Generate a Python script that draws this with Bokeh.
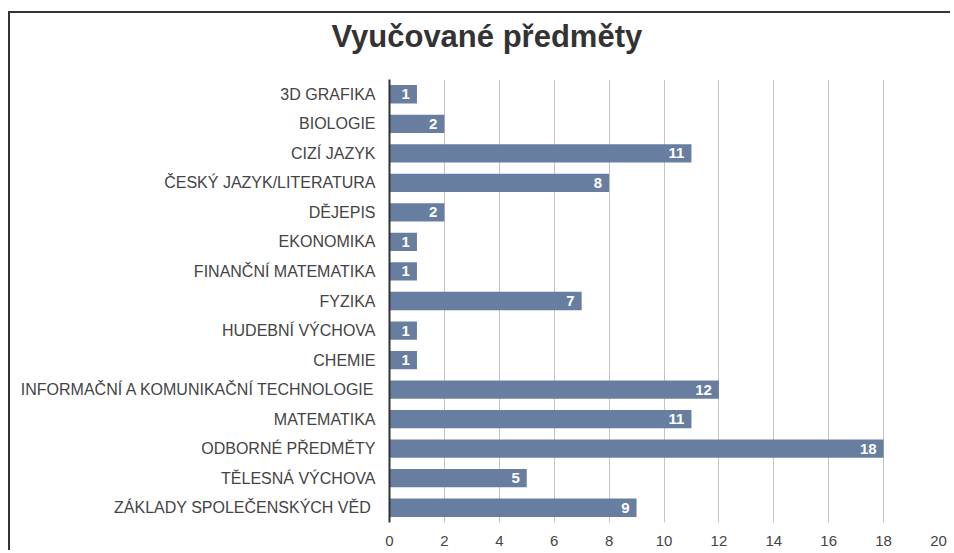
from bokeh.plotting import figure
from bokeh.models import ColumnDataSource, FixedTicker, FactorRange, Range1d
from bokeh.core.properties import value
from bokeh.embed import file_html
from bokeh.resources import INLINE

categories = ["3D GRAFIKA", "BIOLOGIE", "CIZÍ JAZYK", "ČESKÝ JAZYK/LITERATURA", "DĚJEPIS",
              "EKONOMIKA", "FINANČNÍ MATEMATIKA", "FYZIKA", "HUDEBNÍ VÝCHOVA", "CHEMIE",
              "INFORMAČNÍ A KOMUNIKAČNÍ TECHNOLOGIE", "MATEMATIKA", "ODBORNÉ PŘEDMĚTY",
              "TĚLESNÁ VÝCHOVA", "ZÁKLADY  SPOLEČENSKÝCH VĚD"]
counts = [1, 2, 11, 8, 2, 1, 1, 7, 1, 1, 12, 11, 18, 5, 9]
x_ticks = [0, 2, 4, 6, 8, 10, 12, 14, 16, 18, 20]
title_text = "Vyučované předměty"

src = ColumnDataSource(dict(cat=categories, val=counts, lab=[str(v) for v in counts]))

# chart box (left and top edge) drawn with CSS background lines
frame_css = {
    "margin-top": "-10px",
    "background-image": "linear-gradient(#333333, #333333), linear-gradient(#333333, #333333)",
    "background-size": "100% 2px, 2px 100%",
    "background-position": "8px 21px, 8px 21px",
    "background-repeat": "no-repeat",
}

p = figure(width=950, height=560, output_backend="svg", toolbar_location=None,
           y_range=FactorRange(factors=list(reversed(categories))),
           x_range=Range1d(0, 20),
           min_border_left=389, min_border_right=12, min_border_top=87, min_border_bottom=28,
           styles=frame_css)
p.border_fill_color = None
p.background_fill_color = None

p.title.text = title_text
p.title.align = "left"
p.title.offset = -58
p.title.standoff = 52
p.title.text_font = "Liberation Sans"
p.title.text_font_size = "31px"
p.title.text_font_style = "bold"
p.title.text_color = "#333333"

p.hbar(y="cat", right="val", left=0, height=0.62, source=src,
       fill_color="#687ea1", line_color=None)
p.text(x="val", y="cat", text="lab", source=src, x_offset=-7, text_align="right",
       text_baseline="middle", text_color="white", text_font=value("Liberation Sans"),
       text_font_size="15px", text_font_style="bold")

p.xaxis.ticker = FixedTicker(ticks=x_ticks)
p.xaxis.axis_line_color = None
p.xaxis.major_tick_line_color = None
p.xaxis.major_tick_out = 0
p.xaxis.minor_tick_line_color = None
p.xaxis.major_label_text_font = "Liberation Sans"
p.xaxis.major_label_text_font_size = "15px"
p.xaxis.major_label_text_color = "#444444"
p.xaxis.major_label_standoff = 13

p.yaxis.axis_line_color = "#333333"
p.yaxis.axis_line_width = 2
p.yaxis.major_tick_line_color = None
p.yaxis.major_tick_out = 0
p.yaxis.minor_tick_line_color = None
p.yaxis.major_label_text_font = "Liberation Sans"
p.yaxis.major_label_text_font_size = "16px"
p.yaxis.major_label_text_color = "#444444"
p.yaxis.major_label_standoff = 14

p.xgrid.grid_line_color = "#c4c4c4"
p.xgrid.ticker = FixedTicker(ticks=x_ticks)
p.ygrid.grid_line_color = None
p.outline_line_color = None

open("out.html", "w").write(file_html(p, INLINE))
